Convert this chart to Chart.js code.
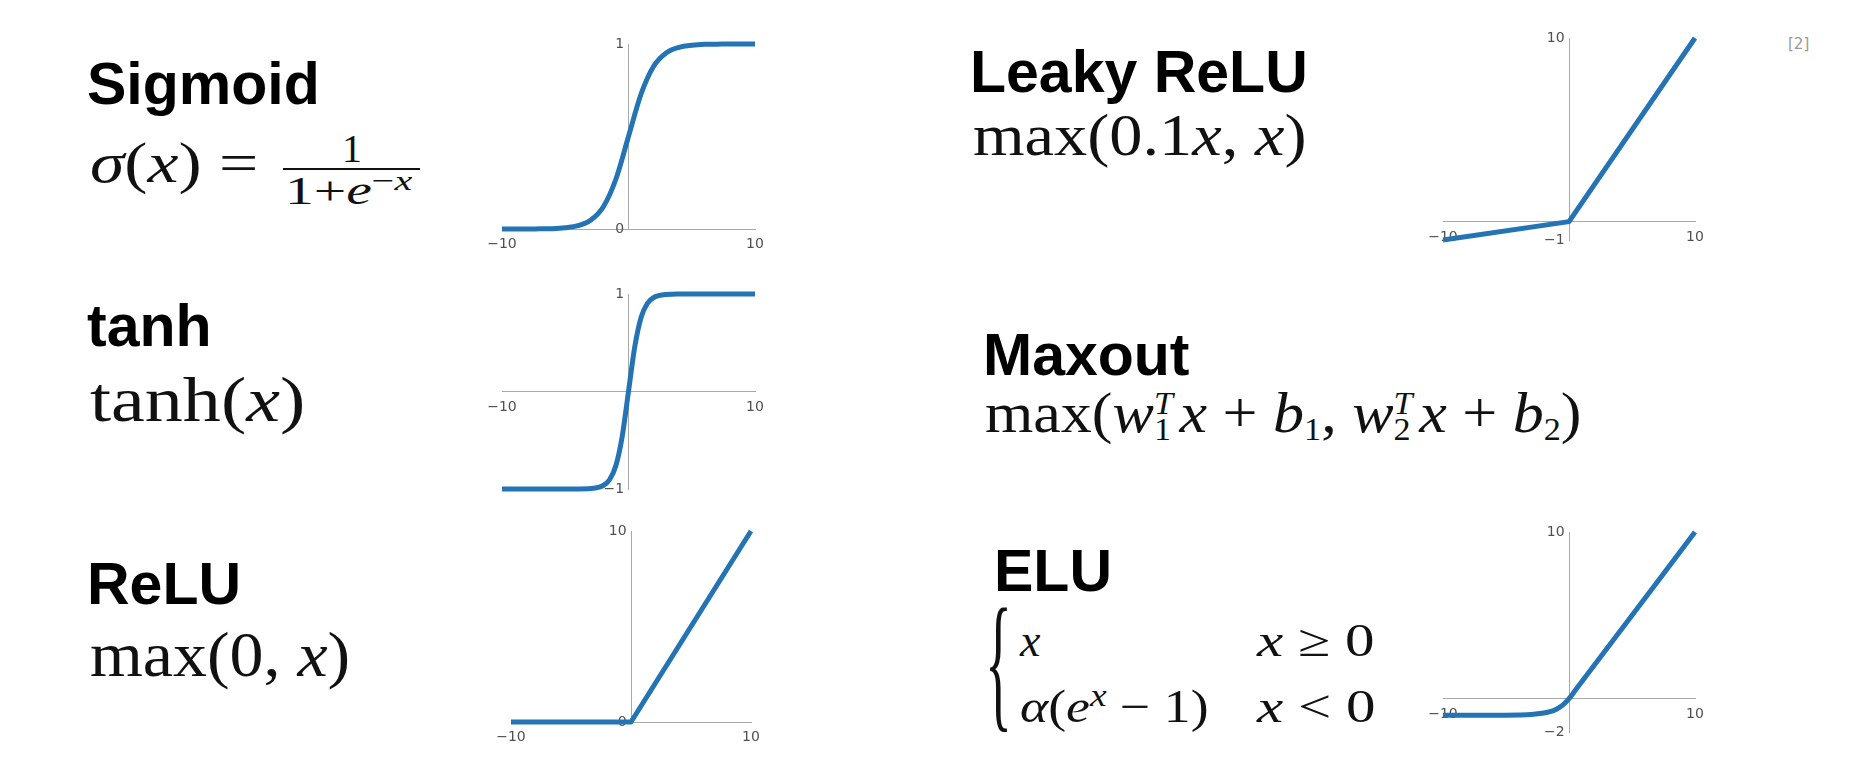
<!DOCTYPE html>
<html>
<head>
<meta charset="utf-8">
<title>Activation functions</title>
<script src="https://cdn.jsdelivr.net/npm/chart.js@4.4.1/dist/chart.umd.min.js"></script>
<style>
html, body { margin: 0; padding: 0; background: #fff; }
body { width: 1858px; height: 770px; position: relative; overflow: hidden; }
.t { position: absolute; font-family: "Liberation Sans", Arial, sans-serif; font-weight: bold; font-size: 59px; line-height: 1; color: #000; white-space: nowrap; }
.m { position: absolute; font-family: "Liberation Serif", "Times New Roman", serif; line-height: 1; color: #111; white-space: nowrap; transform-origin: 0 0; }
.m i { font-style: italic; }
.sup { position: relative; top: -0.5em; font-size: 0.7em; }
.sub { position: relative; top: 0.25em; font-size: 0.55em; }
.ss { display: inline-block; position: relative; height: 0; font-size: 0.55em; }
.ss span { position: absolute; left: 0; line-height: 1; }
.ss .hi { top: -1.4em; }
.ss .lo { top: -0.59em; }
.bar { position: absolute; background: #111; height: 2px; }
.plot { position: absolute; }
.ref { position: absolute; left: 1788px; top: 35px; font: 15px "DejaVu Sans", sans-serif; color: #999; }
</style>
</head>
<body>

<!-- titles -->
<div class="t" data-x="87" data-b="105">Sigmoid</div>
<div class="t" data-x="87" data-b="347">tanh</div>
<div class="t" data-x="87" data-b="605">ReLU</div>
<div class="t" data-x="970" data-b="93">Leaky ReLU</div>
<div class="t" data-x="983" data-b="376">Maxout</div>
<div class="t" data-x="994" data-b="592">ELU</div>

<!-- formulas -->
<div class="m" data-x="90" data-b="183" data-w="168" style="font-size:58px"><i>σ</i>(<i>x</i>) =</div>
<div class="m" data-cx="352" data-b="162" style="font-size:40px">1</div>
<div class="bar" style="left:283px; top:168px; width:137px"></div>
<div class="m" data-cx="349" data-b="204" data-w="128" style="font-size:40px">1+<i>e</i><span class="sup">−<i>x</i></span></div>

<div class="m" data-x="90" data-b="422" data-w="215" style="font-size:64px">tanh(<i>x</i>)</div>
<div class="m" data-x="90" data-b="677" data-w="260" style="font-size:64px">max(0, <i>x</i>)</div>
<div class="m" data-x="973" data-b="155" data-w="334" style="font-size:60px">max(0.1<i>x</i>, <i>x</i>)</div>
<div class="m" data-x="985" data-b="433" data-w="597" style="font-size:58px">max(<i>w</i><span class="ss" style="width:.75em"><span class="hi"><i>T</i></span><span class="lo">1</span></span><i>x</i> + <i>b</i><span class="sub">1</span>, <i>w</i><span class="ss" style="width:.75em"><span class="hi"><i>T</i></span><span class="lo">2</span></span><i>x</i> + <i>b</i><span class="sub">2</span>)</div>

<div class="m" data-x="985" data-b="712" data-w="27" style="font-size:150px">{</div>
<div class="m" data-x="1020" data-b="657" style="font-size:46px"><i>x</i></div>
<div class="m" data-x="1257" data-b="657" data-w="118" style="font-size:46px"><i>x</i> ≥ 0</div>
<div class="m" data-x="1020" data-b="723" data-w="188" style="font-size:46px"><i>α</i>(<i>e</i><span class="sup"><i>x</i></span> − 1)</div>
<div class="m" data-x="1257" data-b="723" data-w="118" style="font-size:46px"><i>x</i> &lt; 0</div>

<div class="ref">[2]</div>

<div class="plot" id="pSigmoid"><canvas id="cSigmoid"></canvas></div>
<div class="plot" id="pTanh"><canvas id="cTanh"></canvas></div>
<div class="plot" id="pRelu"><canvas id="cRelu"></canvas></div>
<div class="plot" id="pLeaky"><canvas id="cLeaky"></canvas></div>
<div class="plot" id="pElu"><canvas id="cElu"></canvas></div>

<script>
// values
const xRange = [-10, 10];

const sigmoidX = [-10, -8, -7, -6, -5, -4, -3, -2, -1, 0, 1, 2, 3, 4, 5, 6, 7, 8, 10];
const sigmoidY = [0.000, 0.000, 0.001, 0.002, 0.007, 0.018, 0.047, 0.119, 0.269, 0.500, 0.731, 0.881, 0.953, 0.982, 0.993, 0.998, 0.999, 1.000, 1.000];
const sigmoidTicks = [0, 1];

const tanhX = [-10, -6, -4, -3, -2, -1.5, -1, -0.5, 0, 0.5, 1, 1.5, 2, 3, 4, 6, 10];
const tanhY = [-1.000, -1.000, -0.999, -0.995, -0.964, -0.905, -0.762, -0.462, 0.000, 0.462, 0.762, 0.905, 0.964, 0.995, 0.999, 1.000, 1.000];
const tanhTicks = [-1, 1];

const reluX = [-10, 0, 10];
const reluY = [0, 0, 10];
const reluTicks = [0, 10];

const leakyX = [-10, 0, 10];
const leakyY = [-1, 0, 10];
const leakyTicks = [-1, 10];

const eluX = [-10, -6, -4, -3, -2, -1.5, -1, -0.5, 0, 0.5, 10];
const eluY = [-1.00, -1.00, -0.98, -0.95, -0.86, -0.78, -0.63, -0.39, 0.00, 0.50, 10.00];
const eluTicks = [-2, 10];

// place text blocks on their baselines, stretch formulas to the reference width
document.querySelectorAll('[data-b]').forEach(el => {
    const fs = parseFloat(getComputedStyle(el).fontSize);
    const k = el.classList.contains('t') ? 0.8465 : 0.8375;
    el.style.top = (el.dataset.b - k * fs) + 'px';
    const w = el.offsetWidth;
    const sx = el.dataset.w ? el.dataset.w / w : 1;
    if (sx !== 1) el.style.transform = 'scaleX(' + sx + ')';
    const left = el.dataset.cx ? el.dataset.cx - w * sx / 2 : +el.dataset.x;
    el.style.left = left + 'px';
});

const PAD = { left: 34, right: 34, top: 14, bottom: 28 };
const LINE_COLOR = '#2474b5';
const AXIS_COLOR = '#a8a8a8';

function fmt(v) {
    return v < 0 ? '\u2212' + Math.abs(v) : String(v);
}

function axisOpts(ticks, pos, pad, tail) {
    return {
        type: 'linear',
        min: ticks[0],
        max: ticks[ticks.length - 1],
        position: pos,
        afterBuildTicks: s => { s.ticks = ticks.map(v => ({ value: v })); },
        grid: { display: false, drawTicks: false },
        border: { display: true, color: AXIS_COLOR, width: 1 },
        ticks: {
            padding: pad,
            color: '#505050',
            maxRotation: 0,
            autoSkip: false,
            font: { family: 'DejaVu Sans', size: 14 },
            callback: v => fmt(v) + tail
        }
    };
}

// box = plot area on the page: left, top, right, bottom
function makePlot(id, box, xs, ys, yTicks, smooth) {
    const wrap = document.getElementById('p' + id);
    const canvas = document.getElementById('c' + id);
    canvas.width = box[2] - box[0] + PAD.left + PAD.right;
    canvas.height = box[3] - box[1] + PAD.top + PAD.bottom;
    wrap.style.left = (box[0] - PAD.left) + 'px';
    wrap.style.top = (box[1] - PAD.top) + 'px';

    return new Chart(canvas, {
        type: 'line',
        data: {
            datasets: [{
                data: xs.map((x, i) => ({ x: x, y: ys[i] })),
                borderColor: LINE_COLOR,
                borderWidth: 5,
                pointRadius: 0,
                fill: false,
                clip: false,
                tension: 0,
                cubicInterpolationMode: smooth ? 'monotone' : 'default',
                borderJoinStyle: 'round'
            }]
        },
        options: {
            responsive: false,
            animation: false,
            events: [],
            layout: { padding: PAD },
            plugins: { legend: { display: false }, tooltip: { enabled: false } },
            scales: {
                x: axisOpts(xRange, { y: 0 }, 7, ''),
                y: axisOpts(yTicks, { x: 0 }, 3, ' ')
            }
        }
    });
}

makePlot('Sigmoid', [502, 44, 755, 229], sigmoidX, sigmoidY, sigmoidTicks, true);
makePlot('Tanh', [502, 294, 755, 489], tanhX, tanhY, tanhTicks, true);
makePlot('Relu', [511, 531, 751, 722], reluX, reluY, reluTicks, false);
makePlot('Leaky', [1443, 38, 1695, 240], leakyX, leakyY, leakyTicks, false);
makePlot('Elu', [1443, 532, 1695, 732], eluX, eluY, eluTicks, true);
</script>
</body>
</html>
